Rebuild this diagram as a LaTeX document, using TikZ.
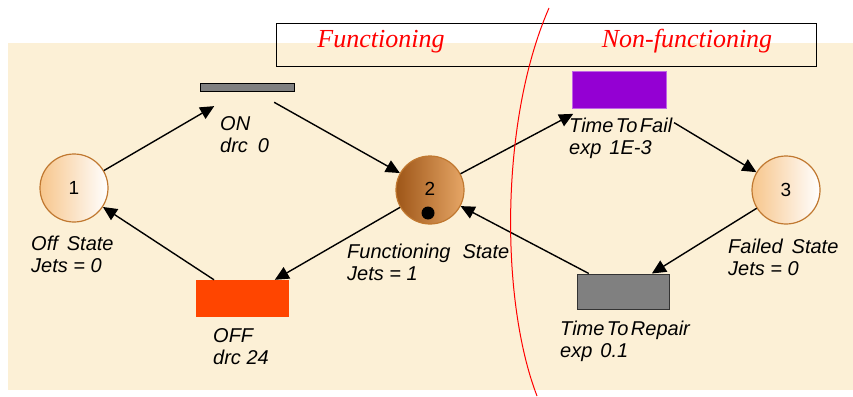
\documentclass[tikz,border=0pt]{standalone}
\usepackage{fontspec}
\setmainfont{Liberation Serif}
\setsansfont{Liberation Sans}
\usetikzlibrary{arrows.meta}
\definecolor{bgcream}{HTML}{FCF0D6}
\definecolor{placeedge}{HTML}{C07830}
\definecolor{placelight}{HTML}{F7C68C}
\definecolor{placedark}{HTML}{9E5618}
\definecolor{placemid}{HTML}{E6A666}
\definecolor{failviolet}{HTML}{9400D3}
\definecolor{offred}{HTML}{FF4500}
\tikzset{
  placebase/.style={circle,draw=placeedge,line width=1.2pt,minimum size=68pt,inner sep=0pt,
    font=\sffamily\fontsize{19}{19}\selectfont},
  idleplace/.style={placebase,left color=placelight,right color=white},
  busyplace/.style={placebase,left color=placedark,right color=placemid},
  transbox/.style={rectangle,inner sep=0pt},
  lbl/.style={anchor=base west,inner sep=0pt,align=left,
    font=\sffamily\itshape\fontsize{20}{22}\selectfont},
  flow/.style={-{Triangle[length=14pt,width=13pt]},line width=1.4pt},
  headtext/.style={anchor=base,text=red,font=\itshape\fontsize{26}{26}\selectfont}
}
\begin{document}
\begin{tikzpicture}[x=1pt,y=-1pt]
    \useasboundingbox (0,0) rectangle (853,396);
    \fill [bgcream] (8,43) rectangle (853,390);
    \draw [line width=0.8pt] (276,23) rectangle (816,66);
    \node [headtext] (fun) at (381,48) {Functioning};
    \node [headtext] (nonfun) at (687,48) {Non-functioning};

    \node [idleplace] (p1) at (74,188) {1};
    \node [busyplace] (p2) at (430,190) {\raisebox{3pt}{2}};
    \node [idleplace] (p3) at (786,190) {3};
    \node [circle,fill=black,inner sep=0pt,minimum size=13pt] (tok) at (428,213) {};

    \node [transbox,draw=black,fill=gray,line width=1pt,minimum width=94pt,minimum height=8pt] (on) at (247,87) {};
    \node [transbox,draw=failviolet!60,fill=failviolet,minimum width=94pt,minimum height=37pt] (tf) at (619,89.5) {};
    \node [transbox,fill=offred,minimum width=93pt,minimum height=37pt] (off) at (242.5,298.5) {};
    \node [transbox,draw=black!80,fill=gray,line width=1pt,minimum width=92pt,minimum height=35pt] (tr) at (623,291.5) {};

    \node [lbl] (lp1) at (31,272) {Off\hspace{9pt}State\\Jets = 0};
    \node [lbl] (lon) at (220,152) {ON\\drc\hspace{10pt}0};
    \node [lbl] (lp2) at (347,280) {Functioning\hspace{12pt}State\\Jets = 1};
    \node [lbl] (loff) at (213,364) {OFF\\drc 24};
    \node [lbl] (ltf) at (569,154) {Time\hspace{2.5pt}To\hspace{2.5pt}Fail\\exp\hspace{8pt}1E-3};
    \node [lbl] (lp3) at (728,275) {Failed\hspace{9pt}State\\Jets = 0};
    \node [lbl] (ltr) at (560,357) {Time\hspace{2.5pt}To\hspace{2.5pt}Repair\\exp\hspace{8pt}0.1};

    \draw [flow,shorten >=29pt] (p1) -- (on);
    \draw [flow,shorten <=22pt] (on) -- (p2);
    \draw [flow,shorten >=12pt] (p2) -- (tf);
    \draw [flow,shorten <=28pt] (tf) -- (p3);
    \draw [flow] (p3) -- (tr);
    \draw [flow] (tr) -- (p2);
    \draw [flow] (p2) -- (off);
    \draw [flow] (off) -- (p1);

    \draw [red,line width=1pt] (549,8) .. controls (500,120) and (500,300) .. (537,396);
\end{tikzpicture}
\end{document}
